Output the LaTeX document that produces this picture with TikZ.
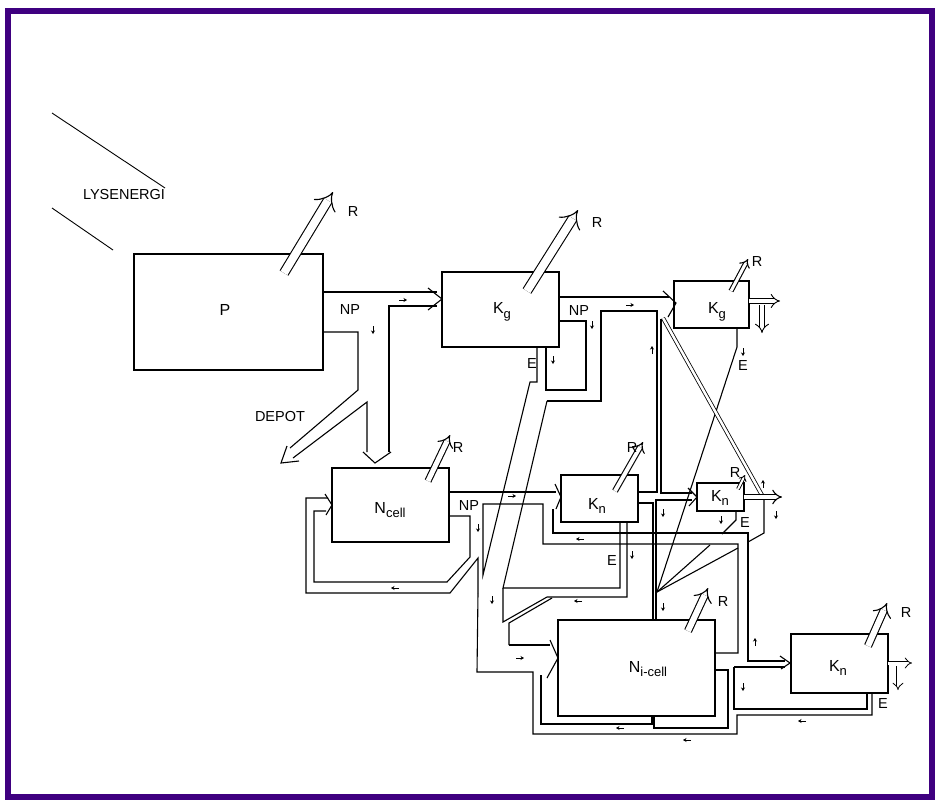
\documentclass[tikz,border=0pt]{standalone}
\usepackage{fontspec}
\setmainfont{Liberation Sans}
\usetikzlibrary{arrows.meta,calc}
\definecolor{framec}{HTML}{3F0080}
\newcommand\lsub[1]{\raisebox{-0.55ex}{\fontsize{13}{13}\selectfont #1}}
\newcommand\flowr[2]{\draw[sa] (#1-4,#2) -- (#1+4,#2);}
\newcommand\flowl[2]{\draw[sa] (#1+4,#2) -- (#1-4,#2);}
\newcommand\flowd[2]{\draw[sa] (#1,#2-4) -- (#1,#2+4);}
\newcommand\flowu[2]{\draw[sa] (#1,#2+4) -- (#1,#2-4);}
\begin{document}
\begin{tikzpicture}[x=1pt,y=-1pt,line width=1.1pt,line join=miter,
  box/.style={draw,rectangle,inner sep=0pt},
  txt/.style={inner sep=0pt,font=\fontsize{16}{18}\selectfont},
  lbl/.style={inner sep=0pt,font=\fontsize{14.5}{16}\selectfont},
  hol/.style={double,double distance=#1,-{Implies}},
  sa/.style={line width=0.7pt,-{Stealth[length=3.5pt,width=4pt]}}]
\useasboundingbox (0,0) rectangle (938,807);
\draw[framec,line width=6pt] (8,11) rectangle (932,797);

% boxes
\node[box,minimum width=189pt,minimum height=116pt] (P) at (228.5,312) {};
\node[box,minimum width=117pt,minimum height=75pt] (Kg1) at (500.5,309.5) {};
\node[box,minimum width=117pt,minimum height=74pt] (Nc) at (390.5,505) {};
\node[box,minimum width=77pt,minimum height=47pt] (Kn1) at (599.5,498.5) {};
\node[box,minimum width=75pt,minimum height=47pt] (Kg2) at (711.5,304.5) {};
\node[box,minimum width=47pt,minimum height=28pt] (Kn2) at (720.5,497) {};
\node[box,minimum width=157pt,minimum height=96pt] (Ni) at (636.5,668) {};
\node[box,minimum width=97pt,minimum height=59pt] (Kn3) at (839.5,663.5) {};

% box texts
\node[txt] (tP) at (225,310) {P};
\node[txt] (tKg1) at (502,312) {K\lsub{g}};
\node[txt] (tNc) at (390,510) {N\lsub{cell}};
\node[txt] (tKn1) at (597,506) {K\lsub{n}};
\node[txt] (tKg2) at (717,312) {K\lsub{g}};
\node[txt] (tKn2) at (720,498) {K\lsub{n}};
\node[txt] (tNi) at (648,669) {N\lsub{i-cell}};
\node[txt] (tKn3) at (838,668) {K\lsub{n}};

% light
\draw[line width=0.9pt] (52,113) -- (165,188);
\draw[line width=0.9pt] (52,208) -- (113,250);
\node[lbl] (tL) at (124,195) {LYSENERGI};
\node[lbl] (tD) at (280,417) {DEPOT};

% R arrows
\draw[hol=8pt] (284,273) -- (333,192);  \node[lbl] (r1) at (353,212) {R};
\draw[hol=8pt] (527,291) -- (578,210);  \node[lbl] (r2) at (597,223) {R};
\draw[hol=5pt] (428,481) -- (450,435);  \node[lbl] (r3) at (458,448) {R};
\draw[hol=4pt] (615,491) -- (643,442);  \node[lbl] (r4) at (632,448) {R};
\draw[hol=3pt] (731,291) -- (748,259);  \node[lbl] (r5) at (757,262) {R};
\draw[hol=2pt,line width=0.9pt] (738,489) -- (745,475);  \node[lbl] (r6) at (735,473) {R};
\draw[hol=6pt] (688,631) -- (708,588);  \node[lbl] (r7) at (723,602) {R};
\draw[hol=6pt] (868,646) -- (887,603);  \node[lbl] (r8) at (906,613) {R};

% P -> Kg1
\draw (323,292) -- (437,292);
\draw (389,452) -- (389,306) -- (437,306);
\draw (428,288) -- (442,299) -- (428,310);
% P -> depot / Ncell
\draw (323,332) -- (358,332) -- (358,390) -- (290,448);
\draw (293,458) -- (367,402) -- (367,452);
\draw (287,446) -- (281,463) -- (299,461);
\draw (363,452) -- (375,463) -- (391,452);
\node[lbl] (np1) at (350,310) {NP};
\flowr{403}{300}
\flowd{373}{330}

% Kg1 outputs
\draw (559,297) -- (669,297);
\draw (663,291) -- (676,303) -- (668,317);
\draw (547,401) -- (601,401) -- (601,311) -- (657,311) -- (657,492) -- (638,492);
\draw (661,319) -- (661,493) -- (692,493);
\draw (688,488) -- (697,497) -- (689,506);
\draw (559,321) -- (586,321) -- (586,390) -- (546,390) -- (546,347);
\draw (537,347) -- (537,382) -- (530,382) -- (483,575) -- (483,504) -- (543,504) -- (543,544) -- (738,544) -- (738,653) -- (715,653);
\draw (547,401) -- (503,588) -- (620,588) -- (620,522);
\node[lbl] (e1) at (532,364) {E};
\node[lbl] (np2) at (579,311) {NP};
\flowd{553}{360}
\flowd{592}{325}
\flowr{630}{305}
\flowu{652}{350}

% Ncell -> Kn1
\draw (449,492) -- (556,492);
\draw (555,484) -- (561,497) -- (556,509);
\draw (553,509) -- (553,533) -- (748,533) -- (748,661) -- (785,661);
\draw (780,656) -- (790,663) -- (781,669);
\draw (734,667) -- (785,667);
\draw (734,667) -- (734,709) -- (867,709) -- (867,693);
\node[lbl] (np3) at (469,506) {NP};
\flowr{512}{496}

% Ncell feedback
\draw (449,516) -- (470,516) -- (470,557) -- (447,582) -- (314,582) -- (314,511) -- (326,511);
\draw (325,494) -- (332,505) -- (326,515);
\draw (328,498) -- (306,498) -- (306,593) -- (450,593) -- (478,558) -- (478,593);
\draw (478,593) -- (477,672) -- (533,672) -- (533,734) -- (737,734) -- (737,715) -- (872,715) -- (872,693);
\flowl{395}{588}
\flowd{478}{528}
\flowd{492}{600}

% Kn1 E
\draw (627,522) -- (627,597) -- (547,597) -- (503,622) -- (503,588);
\draw (509,645) -- (509,623) -- (552,598);
\node[lbl] (e2) at (612,561) {E};
\flowd{632}{555}
\flowl{578}{601}
\flowl{580}{539}

% Ni input and loops
\draw (509,645) -- (550,645);
\draw (550,640) -- (558,658) -- (547,678);
\draw (541,675) -- (541,724) -- (652,724) -- (652,716);
\draw (654,716) -- (654,728) -- (728,728) -- (728,670) -- (715,670);
\flowr{520}{658}
\flowl{620}{728}
\flowl{687}{740}
\flowl{802}{721}
\flowd{743}{687}
\flowu{755}{642}

% Kn1 right side, Kn2
\draw (638,503) -- (653,503) -- (653,620);
\draw (656,620) -- (656,500) -- (692,500);
\flowd{663}{513}
\flowd{663}{607}
\draw (657,592) -- (710,545);
\draw (657,592) -- (738,548);
\draw (737,328) -- (737,347) -- (657,592);
\node[lbl] (e3) at (743,366) {E};
\flowd{743}{352}
\draw[double,double distance=2.5pt,line width=0.8pt] (663,318) -- (763,497);
\draw[hol=4pt] (744,497) -- (782,497);
\draw (736,511) -- (736,520) -- (722,534);
\draw (764,500) -- (764,533) -- (748,542);
\node[lbl] (e4) at (745,523) {E};
\flowu{763}{484}
\flowd{776}{515}
\flowd{721}{520}

% Kg2 outputs
\draw[hol=4pt,line width=0.9pt] (749,301) -- (780,301);
\draw[hol=4pt,line width=0.9pt] (762,305) -- (762,333);

% Kn3 outputs
\draw[hol=3pt,line width=0.8pt] (888,663) -- (912,663);
\draw[hol=3pt,line width=0.8pt] (898,666) -- (898,690);
\node[lbl] (e5) at (883,704) {E};
\end{tikzpicture}
\end{document}
